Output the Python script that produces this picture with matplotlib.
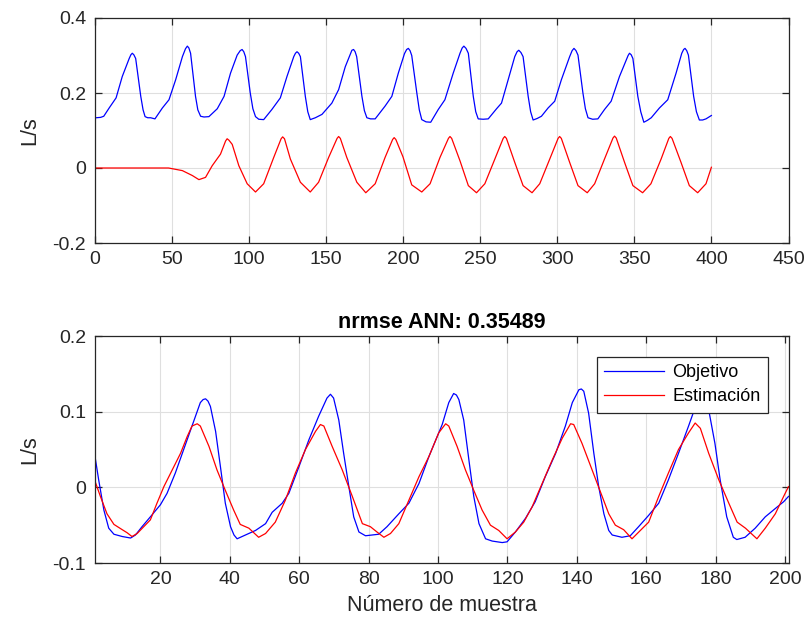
import matplotlib
matplotlib.use('Agg')
import matplotlib.pyplot as plt

plt.rcParams['font.family'] = ['Liberation Sans', 'DejaVu Sans']
plt.rcParams['axes.unicode_minus'] = False

# upper panel: full record (samples 1..400)
top_obj_x = [1, 4, 6, 9.5, 14, 18, 22.5, 23.6, 24.5, 25.5, 26.7, 30, 31.5, 32.8, 34.5, 36.4, 39.2, 41,
             44, 48.3, 52.6, 57, 59, 60.2, 61.2, 62.3, 65.5, 67, 68.8, 71, 74.2, 79.6, 84, 88.2, 92.5,
             94.5, 95.7, 96.8, 97.9, 101, 102.7, 104.4, 106.5, 109.7, 115, 120.5, 124.8, 129.2, 130.3,
             131.3, 132.4, 133.5, 136.7, 138.3, 139.9, 143.2, 147.5, 153.9, 158.3, 162.6, 166.9, 168,
             169, 170, 173.4, 175, 176.6, 179, 182, 188.4, 192.8, 197, 201, 202.4, 203.5, 204.6, 205.7,
             209, 210.6, 212.2, 215, 218, 222.9, 227.2, 232.6, 237, 238.4, 239.5, 240.9, 242.4, 245.6,
             247.2, 248.8, 252, 255.3, 260.7, 263.9, 268.2, 272.5, 274, 275.1, 276.5, 277.9, 281.2,
             282.8, 284.4, 287, 289.8, 294.1, 298.4, 302.7, 308.1, 309.7, 310.9, 312.2, 313.5, 316.7,
             318.3, 320, 323, 326.4, 330.7, 335, 340.4, 344.8, 346, 346.9, 348, 349.1, 352.3, 354.2,
             356.2, 358.5, 361, 366.3, 371.7, 377.1, 380.8, 382, 382.9, 384, 385.1, 388.5, 390.3, 392.2,
             394.3, 396.5, 400]
top_obj_y = [0.134, 0.135, 0.138, 0.160, 0.187, 0.244, 0.292, 0.302, 0.306, 0.302, 0.292, 0.191, 0.155,
             0.137, 0.134, 0.134, 0.131, 0.142, 0.160, 0.182, 0.235, 0.297, 0.318, 0.325, 0.320, 0.306,
             0.191, 0.155, 0.138, 0.136, 0.137, 0.158, 0.191, 0.253, 0.301, 0.313, 0.316, 0.310, 0.297,
             0.200, 0.158, 0.137, 0.130, 0.129, 0.156, 0.187, 0.244, 0.297, 0.306, 0.310, 0.306, 0.297,
             0.191, 0.150, 0.129, 0.134, 0.143, 0.173, 0.209, 0.270, 0.314, 0.316, 0.310, 0.297, 0.191,
             0.153, 0.134, 0.131, 0.131, 0.165, 0.191, 0.253, 0.305, 0.316, 0.319, 0.313, 0.300, 0.200,
             0.155, 0.129, 0.123, 0.122, 0.156, 0.182, 0.253, 0.306, 0.320, 0.325, 0.319, 0.306, 0.191,
             0.150, 0.131, 0.130, 0.131, 0.158, 0.173, 0.235, 0.297, 0.310, 0.314, 0.308, 0.297, 0.191,
             0.150, 0.128, 0.132, 0.138, 0.160, 0.178, 0.235, 0.297, 0.313, 0.319, 0.313, 0.301, 0.200,
             0.158, 0.134, 0.130, 0.131, 0.156, 0.178, 0.244, 0.288, 0.300, 0.306, 0.302, 0.292, 0.191,
             0.150, 0.122, 0.127, 0.134, 0.160, 0.182, 0.253, 0.306, 0.316, 0.319, 0.313, 0.301, 0.191,
             0.150, 0.128, 0.128, 0.131, 0.140]

top_est_x = [1, 48, 57, 63.4, 67.7, 72, 76.3, 81.7, 85, 86, 87.2, 89.3, 93.6, 99, 104.4, 109.7, 116.2,
             121, 122, 123.2, 127, 133.5, 139.9, 145.3, 151.8, 157.3, 158.3, 159.4, 163.6, 170.1, 175.9,
             182, 188.4, 193.3, 194.3, 195.4, 200, 205.7, 212.2, 217.6, 224, 229.5, 230.5, 231.6, 237,
             242.4, 247.7, 253.1, 259.6, 265, 266, 267.1, 272.5, 277.9, 283.7, 288.7, 295.2, 300.6,
             301.6, 302.7, 308.1, 313.5, 319.5, 324.3, 330.7, 336.2, 337.2, 338.3, 343.7, 349.1, 355.4,
             360.8, 367.4, 372.4, 373.4, 374.5, 380.3, 385.7, 391.1, 396.5, 400]
top_est_y = [0.0, 0.0, -0.007, -0.020, -0.031, -0.025, 0.006, 0.037, 0.072, 0.078, 0.074, 0.063, 0.006,
             -0.042, -0.064, -0.042, 0.028, 0.078, 0.083, 0.078, 0.024, -0.038, -0.064, -0.038, 0.028,
             0.079, 0.084, 0.079, 0.028, -0.038, -0.066, -0.042, 0.028, 0.076, 0.081, 0.076, 0.030,
             -0.045, -0.064, -0.042, 0.028, 0.079, 0.084, 0.079, 0.019, -0.047, -0.066, -0.042, 0.024,
             0.079, 0.084, 0.079, 0.015, -0.047, -0.066, -0.042, 0.024, 0.079, 0.084, 0.079, 0.015,
             -0.047, -0.066, -0.042, 0.024, 0.080, 0.085, 0.080, 0.015, -0.047, -0.066, -0.042, 0.024,
             0.079, 0.084, 0.079, 0.015, -0.047, -0.066, -0.042, 0.002]

# lower panel: test window (samples 1..201)
obj_x = [1, 2.2, 3.7, 5.1, 6.6, 9, 11.4, 12.8, 14.7, 17.1, 20, 21.9, 24.3, 26.7, 29.1, 31.5, 32.3, 33,
         33.7, 34.4, 35.9, 37.3, 38.7, 40.2, 41.2, 42.1, 44.5, 47.4, 50.3, 52.2, 55.1, 57, 59.9, 62.8,
         65.6, 68, 69, 69.9, 71.4, 72.8, 74.3, 75.7, 77.2, 79.1, 82.9, 85.3, 88.7, 91.6, 94.5, 97.4,
         101.2, 103.1, 104.5, 105.3, 106, 107.4, 108.9, 110.3, 111.8, 113.7, 115.6, 118.5, 119.9,
         122.3, 125.2, 128, 130.9, 133.9, 136.7, 138.7, 140.6, 141.3, 142, 143.4, 144.9, 146.3, 147.8,
         149.2, 150.2, 153, 155.4, 157.8, 160.7, 163.6, 166.4, 169.3, 172.2, 174.6, 176.3, 178.1,
         179.8, 181.3, 183.2, 185.1, 186.1, 188.5, 191.4, 194.3, 197.2, 199.6, 201]
obj_y = [0.045, 0.010, -0.030, -0.054, -0.062, -0.065, -0.067, -0.063, -0.052, -0.039, -0.023, -0.008,
         0.019, 0.050, 0.081, 0.112, 0.116, 0.117, 0.114, 0.107, 0.074, 0.027, -0.021, -0.052, -0.063,
         -0.068, -0.063, -0.057, -0.048, -0.033, -0.021, -0.008, 0.027, 0.063, 0.094, 0.118, 0.123,
         0.118, 0.089, 0.045, 0.001, -0.039, -0.059, -0.064, -0.062, -0.052, -0.035, -0.021, 0.005,
         0.041, 0.083, 0.112, 0.124, 0.122, 0.116, 0.089, 0.036, -0.012, -0.048, -0.068, -0.071,
         -0.073, -0.072, -0.059, -0.041, -0.019, 0.014, 0.045, 0.081, 0.112, 0.129, 0.130, 0.127,
         0.098, 0.045, 0.001, -0.035, -0.057, -0.063, -0.066, -0.064, -0.052, -0.037, -0.021, 0.010,
         0.045, 0.081, 0.112, 0.125, 0.100, 0.058, 0.010, -0.039, -0.066, -0.069, -0.066, -0.054,
         -0.039, -0.028, -0.019, -0.012]

est_x = [1, 2.7, 4.6, 6.6, 9, 10.4, 11.8, 13.3, 15.2, 17.1, 19, 21, 23.4, 25.8, 27.7, 29.1, 30.6, 31.5,
         34, 36.3, 38.7, 41.1, 43, 45.5, 48.3, 50.3, 53.1, 56, 58.9, 61.8, 64.7, 66.1, 67.1, 69.5, 72.4,
         75.3, 78.2, 80.5, 82.4, 84.4, 86.3, 88.7, 91.6, 94.5, 97.4, 100.2, 102.2, 103.1, 105.5, 107.9,
         110.3, 112.7, 115.1, 117.5, 119.9, 122.3, 124.7, 127.1, 130, 132.9, 135.8, 138.2, 139.1, 141.5,
         144.4, 147.3, 149.2, 151.1, 153.5, 155.9, 158.3, 160.7, 163.6, 166.4, 169.3, 172.2, 174.1,
         175.6, 178, 180.9, 183.8, 186.2, 188.6, 191.9, 194.3, 197.2, 199.6, 201]
est_y = [0.010, -0.012, -0.035, -0.049, -0.056, -0.060, -0.065, -0.061, -0.052, -0.043, -0.021, 0.001,
         0.023, 0.045, 0.067, 0.081, 0.084, 0.081, 0.054, 0.023, -0.004, -0.030, -0.049, -0.054, -0.066,
         -0.061, -0.046, -0.017, 0.019, 0.050, 0.074, 0.083, 0.081, 0.054, 0.023, -0.012, -0.048, -0.052,
         -0.059, -0.066, -0.061, -0.048, -0.017, 0.014, 0.041, 0.072, 0.084, 0.081, 0.054, 0.023, -0.004,
         -0.030, -0.050, -0.057, -0.068, -0.059, -0.046, -0.026, 0.005, 0.036, 0.065, 0.084, 0.083,
         0.058, 0.023, -0.012, -0.035, -0.050, -0.056, -0.068, -0.057, -0.046, -0.012, 0.019, 0.050,
         0.072, 0.085, 0.078, 0.045, 0.010, -0.021, -0.046, -0.054, -0.068, -0.054, -0.035, -0.012, 0.001]

top_xticks = [0, 50, 100, 150, 200, 250, 300, 350, 400, 450]
top_yticks = [-0.2, 0, 0.2, 0.4]
top_ylabels = ['-0.2', '0', '0.2', '0.4']
bot_xticks = [20, 40, 60, 80, 100, 120, 140, 160, 180, 200]
bot_yticks = [-0.1, 0, 0.1, 0.2]
bot_ylabels = ['-0.1', '0', '0.1', '0.2']

dark = '#262626'
fig = plt.figure(figsize=(8.09, 6.3), dpi=100)
ax1 = fig.add_axes([94.5 / 809, 1 - 243 / 630, 694 / 809, 225 / 630])
ax2 = fig.add_axes([94.5 / 809, 1 - 563 / 630, 694 / 809, 227 / 630])


def matlab_style(ax):
    ax.grid(True, color='#dfdfdf', linewidth=0.8)
    ax.set_axisbelow(True)
    for s in ax.spines.values():
        s.set_color(dark)
        s.set_linewidth(0.9)
    ax.tick_params(direction='in', length=5, width=0.9, color=dark, labelcolor=dark,
                   labelsize=14, top=True, right=True, pad=6)


ax1.plot(top_obj_x, top_obj_y, color='#0000ff', linewidth=0.9)
ax1.plot(top_est_x, top_est_y, color='#ff0000', linewidth=0.9)
ax1.set_xlim(0, 450)
ax1.set_ylim(-0.2, 0.4)
ax1.set_xticks(top_xticks)
ax1.set_yticks(top_yticks)
ax1.set_yticklabels(top_ylabels)
ax1.set_ylabel('L/s', fontsize=15.5, color=dark, labelpad=9)
matlab_style(ax1)

ax2.plot(obj_x, obj_y, color='#0000ff', linewidth=0.9, label='Objetivo')
ax2.plot(est_x, est_y, color='#ff0000', linewidth=0.9, label='Estimación')
ax2.set_xlim(1, 201)
ax2.set_ylim(-0.1, 0.2)
ax2.set_xticks(bot_xticks)
ax2.set_yticks(bot_yticks)
ax2.set_yticklabels(bot_ylabels)
ax2.set_ylabel('L/s', fontsize=15.5, color=dark, labelpad=9)
ax2.set_xlabel('Número de muestra', fontsize=15.5, color=dark, labelpad=5)
ax2.set_title('nrmse ANN: 0.35489', fontsize=15.5, fontweight='bold', color='black', pad=6)
matlab_style(ax2)
leg = ax2.legend(loc='upper right', bbox_to_anchor=(1 - 20.5 / 694, 1 - 21 / 227), borderaxespad=0,
                 fontsize=13, fancybox=False, framealpha=1, edgecolor=dark, handlelength=3.3,
                 handletextpad=0.5, labelspacing=0.4, borderpad=0.4)
leg.get_frame().set_linewidth(0.9)

fig.savefig('out.png', dpi=100)
